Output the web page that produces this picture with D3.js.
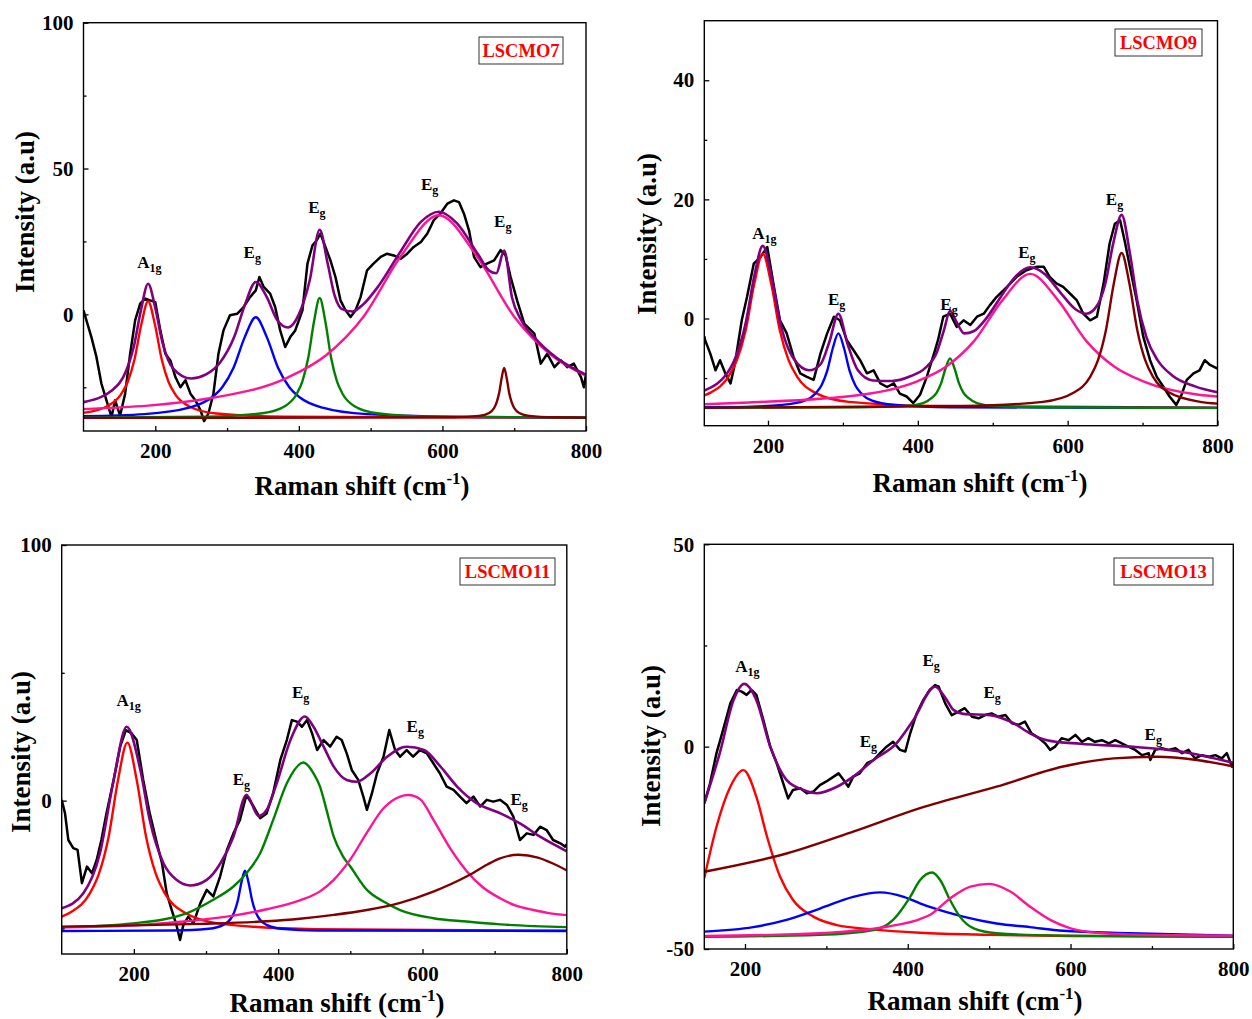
<!DOCTYPE html>
<html>
<head>
	<meta charset="utf-8">
	<title>Raman spectra LSCMO</title>
	<script src="https://cdn.jsdelivr.net/npm/d3@7"></script>
	<style>
		body { margin: 0; background: #fff; }
		svg text { font-family: "Liberation Serif", "Times New Roman", serif; font-weight: bold; }
	</style>
</head>
<body>
<div id="chart"></div>
<script>

// ---- data ----

const xMajor = [200, 400, 600, 800];
const xMinor = [300, 500, 700];

// LSCMO7
const measured7 = [[100,1.4],[104,-2],[111,-7.8],[118,-14.6],[125,-23.8],[132,-29.5],[139,-35.2],[144,-29.5],[151,-34.7],[158,-27.2],[165,-13.5],[172,-2],[179,3.7],[186,5.4],[193,4.8],[200,4.2],[207,-5.5],[214,-13.5],[221,-15.8],[228,-21.5],[235,-25],[242,-22.6],[249,-27.2],[256,-29.5],[263,-32.9],[268,-36.6],[274,-34],[281,-27.2],[288,-13.5],[295,-5.5],[304,-0.3],[314,0.2],[323,2.5],[332,5.9],[340,8.2],[345,12.8],[351,9.4],[360,7.1],[367,2.5],[374,-5.5],[381,-11.2],[388,-7.8],[395,-5.5],[405,1.4],[412,17.4],[419,23.7],[425,25.4],[430,27.7],[437,23.1],[444,18.5],[451,12.8],[458,4.8],[465,1.4],[472,-0.9],[479,1.4],[486,5.9],[495,15.1],[504,17.4],[514,19.7],[523,20.8],[532,20.2],[542,19.1],[551,20.8],[560,23.1],[570,24.8],[579,27.7],[588,32.3],[597,34.5],[607,38],[616,39.1],[623,38.5],[630,34.5],[637,28.8],[644,19.7],[653,16.2],[662,17.4],[672,18.5],[681,22],[688,20.2],[695,12.8],[704,4.8],[714,-3.2],[728,-6.6],[737,-16.9],[746,-13.5],[756,-18.1],[765,-15.8],[774,-18.1],[783,-16.9],[793,-21.5],[797,-25],[800,-20.4]];
const fit7 = [[100,-30.1],[140,-26],[160,-19],[170,-11.2],[180,1.4],[190,10.5],[200,2.2],[210,-9.6],[225,-18.6],[250,-22],[270,-20.7],[290,-16.6],[310,-7.7],[325,3.4],[340,11.1],[355,6.1],[370,-2],[385,-4.5],[400,0],[415,11.5],[429,29],[440,17.6],[450,6.3],[460,1.8],[475,1],[490,3.5],[510,9.4],[540,20.9],[570,31.7],[595,35.2],[620,31.3],[650,20.4],[665,15],[675,14.1],[686,21.9],[697,5.7],[710,-2.1],[730,-8.4],[760,-15.1],[800,-20.7]];
const red7 = [[100,-33.8],[133,-31.5],[152,-27.5],[161.5,-23.2],[171,-15.5],[180.5,-3.5],[190,4.5],[199.5,-3.5],[209,-15.5],[218.5,-23.2],[228,-27.5],[247,-31.5],[285,-34],[380,-35.1],[800,-35.5]];
const blue7 = [[100,-34.9],[185,-34.2],[247,-32],[278,-28.6],[293.5,-24.9],[309,-18.3],[324.5,-7.9],[340,-1],[355.5,-7.9],[371,-18.3],[386.5,-24.9],[402,-28.6],[433,-32],[495,-34.2],[650,-35.2],[800,-35.4]];
const green7 = [[100,-35.4],[269,-35.1],[349,-33.9],[381,-31.4],[397,-27.3],[405,-22.9],[413,-15],[421,-2.6],[429,5.6],[437,-2.6],[445,-15],[453,-22.9],[461,-27.3],[477,-31.4],[509,-33.9],[589,-35.1],[800,-35.4]];
const pink7 = [[100,-32.5],[280,-28.6],[385,-21.6],[437.5,-14.1],[490,-0.8],[542.5,20.1],[595,34],[647.5,20.1],[700,-0.8],[752.5,-14.1],[800,-21]];
const darkred7 = [[100,-35.5],[616,-35.3],[651,-34.8],[665,-33.8],[672,-32.1],[675.5,-30.2],[679,-27],[682.5,-21.8],[686,-18.4],[689.5,-21.8],[693,-27],[696.5,-30.2],[700,-32.1],[707,-33.8],[721,-34.8],[756,-35.3],[800,-35.4]];
const labels7 = [[175,15.8,"A","1g"],[323,19.2,"E","g"],[413,34.7,"E","g"],[570,42.6,"E","g"],[672,29.9,"E","g"]];

// LSCMO9
const measured9 = [[115,-3],[116,-3.6],[123,-5.9],[130,-8.7],[136,-7],[143,-9.2],[150,-10.9],[156,-7.5],[165,-0.3],[172,3.6],[181,9.2],[190,10.3],[199,12],[208,5.3],[216,-0.3],[225,-2.5],[234,-6.4],[243,-9.2],[252,-9.8],[261,-10.3],[270,-5.9],[279,-2.5],[288,0.3],[296,-0.3],[305,-3.6],[314,-5.3],[323,-7],[332,-9.2],[341,-8.7],[350,-10.9],[359,-11.5],[368,-10.9],[376,-12.6],[385,-13.1],[394,-14.2],[403,-12.8],[412,-9.8],[423,-5.3],[427,-3.6],[434,0.3],[443,0.8],[452,-1.4],[461,-0.3],[470,-1.1],[479,0.3],[488,0.8],[496,2.2],[505,3.6],[519,5.3],[532,7],[545,8.1],[559,8.7],[568,8.7],[576,7],[585,5.9],[594,5.3],[603,4.2],[612,3.1],[621,0.8],[630,-0.3],[639,0.3],[648,5.9],[656,12.6],[663,15.9],[670,16.5],[676,13.1],[683,8.7],[692,3.1],[701,-3.1],[710,-7],[719,-9.8],[728,-11.5],[736,-13.1],[745,-14.5],[752,-12.8],[759,-10.3],[768,-9.2],[776,-8.7],[783,-7],[790,-7.8],[800,-8.4]];
const fit9 = [[115,-12.1],[150,-8.3],[170,-0.9],[182,7.3],[193,12.2],[205,6.8],[216,-0.5],[235,-6.9],[255,-8.7],[270,-7.7],[282,-3.9],[294,0.8],[306,-4.2],[320,-8.7],[340,-10.4],[365,-10.5],[390,-9.7],[410,-8.3],[425,-5.8],[435,-1.9],[443,1.3],[451,-0.4],[462,-2.5],[475,-2.1],[490,-0.2],[510,3.5],[530,7],[550,8.6],[570,7.4],[590,4.4],[610,1.6],[625,0.8],[640,2.3],[650,5.7],[661,12.7],[672,17.4],[683,11],[693,3],[705,-3.1],[720,-7],[740,-9.6],[770,-11.4],[800,-12.4]];
const red9 = [[115,-12.9],[124,-12.4],[147,-9.8],[158.5,-7],[170,-2.1],[181.5,5.7],[193,10.9],[204.5,5.7],[216,-2.1],[227.5,-7],[239,-9.8],[262,-12.4],[308,-14],[423,-14.7],[800,-15]];
const blue9 = [[115,-14.9],[144,-14.9],[219,-14.5],[249,-13.8],[264,-12.5],[271.5,-11.2],[279,-8.8],[286.5,-5],[294,-2.5],[301.5,-5],[309,-8.8],[316.5,-11.2],[324,-12.5],[339,-13.8],[369,-14.5],[444,-14.9],[800,-15]];
const green9 = [[115,-15],[323,-14.9],[383,-14.7],[407,-14.2],[419,-13.3],[425,-12.5],[431,-10.9],[437,-8.4],[443,-6.7],[449,-8.4],[455,-10.9],[461,-12.5],[467,-13.3],[479,-14.2],[503,-14.7],[563,-14.9],[800,-15]];
const pink9 = [[115,-14.4],[175,-14.1],[325,-12.8],[400,-10.5],[437.5,-8.1],[475,-3.8],[512.5,3],[550,7.5],[587.5,3],[625,-3.8],[662.5,-8.1],[700,-10.5],[775,-12.8],[800,-13.1]];
const darkred9 = [[115,-15],[462,-14.7],[567,-14],[609,-12.4],[630,-9.8],[640.5,-7],[651,-2],[661.5,5.8],[672,11],[682.5,5.8],[693,-2],[703.5,-7],[714,-9.8],[735,-12.4],[777,-14],[800,-14.3]];
const labels9 = [[179,13.4,"A","1g"],[280,2.2,"E","g"],[430,1.4,"E","g"],[534,10.2,"E","g"],[651,19,"E","g"]];

// LSCMO11
const measured11 = [[100,0.3],[104.6,-5],[109.2,-15.4],[116,-18.6],[122,-19.3],[128,-32.3],[135,-25.8],[142,-28.4],[148.5,-23.2],[155,-15.4],[162,-5],[172,8.1],[181,21.1],[189,27.6],[197,26.3],[204,23.7],[213,8.1],[222,-5],[232,-16.7],[239,-24.5],[245.5,-36.2],[252.5,-42.8],[259,-48.6],[264,-54.5],[268.6,-48.6],[275.5,-45.4],[282.5,-48],[292,-40.2],[301,-34.9],[310,-37.5],[319.5,-29.7],[329,-19.3],[338,-12.8],[347,-7.6],[356,2.2],[366,-2.3],[375,-6.9],[384,-5],[393,2.9],[403,15.9],[412,23.7],[419,31.5],[426,30.9],[433,28.9],[440,31.5],[447,26.3],[454,19.8],[463,23.7],[472,21.1],[481,25],[488,23.7],[495,18.5],[502,12],[511,8.1],[518,1.6],[523,-3.6],[530,2.9],[537,10.7],[546,17.2],[554,27.6],[562,19.8],[569,17.2],[578,19.8],[587,17.2],[596.5,19.8],[606,18.5],[615,14.6],[624,10.7],[633.5,5.5],[643,4.2],[652,1.6],[661,-1],[670.5,1.6],[680,-2.3],[689,0.3],[698,-0.4],[707.5,0.3],[717,-1.7],[726,-6.3],[735,-15.4],[744.5,-12.8],[754,-13.4],[763,-10.2],[772,-11.5],[781,-15.4],[791,-16.7],[797.6,-18],[800,-17]];
const fit11 = [[100,-42.1],[130,-36.2],[153,-20.6],[172,8.1],[190,28.9],[209,12],[222,-7.6],[241,-24.5],[259,-31],[278,-33.2],[301,-31],[320,-24.5],[338,-14.1],[356,2.2],[373,-6],[384,-3.7],[398,6.8],[417,23.7],[437,32.9],[449,28.9],[463,21.1],[477,13.3],[495,8.1],[509,7.4],[528,10.7],[551,17.2],[578,21.1],[602,19.8],[625,13.3],[648,5.5],[675,-1],[708,-5],[735,-8.9],[763,-14.1],[800,-19.8]];
const red11 = [[100,-45.4],[113,-43.6],[139,-36.3],[152,-28.3],[165,-14.2],[178,8],[191,22.7],[204,8],[217,-14.2],[230,-28.3],[243,-36.3],[269,-43.6],[321,-48.2],[451,-50.3],[800,-50.9]];
const blue11 = [[100,-51],[254,-50.8],[304,-50.1],[324,-48.6],[334,-46.3],[339,-43.7],[344,-39.2],[349,-32.1],[354,-27.4],[359,-32.1],[364,-39.2],[369,-43.7],[374,-46.3],[384,-48.6],[404,-50.1],[454,-50.8],[800,-51]];
const green11 = [[100,-49.5],[199,-48],[273,-44.1],[310,-38.8],[338,-33.6],[356,-28.4],[375,-20.6],[393,-7.6],[412,6.8],[435,14.9],[449,10.7],[458,5.5],[467,-3.6],[477,-14.1],[490,-21.9],[500,-25.8],[523,-34.9],[546,-39.5],[569,-42.8],[615,-46],[661,-47.3],[708,-48.4],[800,-49.5]];
const pink11 = [[100,-49.6],[200,-48.8],[273,-47.2],[338,-45],[384,-42.5],[430,-39],[458,-35.5],[477,-31],[500,-23],[523,-12.5],[546,-3],[569,1.6],[580.5,2.2],[597,0.5],[615,-7.4],[638,-18.5],[661,-27.5],[684,-34],[707.5,-38.2],[730.6,-41.2],[753.7,-42.8],[775,-44],[800,-44.8]];
const darkred11 = [[100,-49.3],[200,-48.8],[292,-48.2],[384,-47.2],[430,-46.2],[477,-44.7],[523,-42.8],[569,-40],[615,-35.6],[661,-29.7],[690,-25],[707.5,-22.6],[733,-21.2],[760,-22.3],[780,-24.5],[800,-27.3]];
const labels11 = [[176,37,"A","1g"],[337,6.1,"E","g"],[419,40,"E","g"],[578,26.7,"E","g"],[722,-1.7,"E","g"]];

// LSCMO13
const measured13 = [[150,-14],[157,-9.1],[165,-1.6],[173,4.1],[182,10.7],[190,14],[196,13.6],[202,12.8],[208,14],[214,12.8],[222.5,6.6],[231,0],[239,-4.1],[247,-9.1],[253,-12.8],[259,-10.7],[268,-10.3],[276,-11.5],[284,-11.1],[292,-9.5],[300,-8.6],[309,-7.4],[315,-6.6],[321,-8.2],[327,-9.9],[333,-7.4],[341,-6.6],[350,-4.1],[358,-3.3],[366,-1.6],[374,0],[382,1.2],[390.5,-0.8],[397,-1.2],[403,3.3],[411,8.2],[419,11.5],[427,14],[433.5,15.2],[438,14.8],[446,10.7],[454,7.8],[462,8.6],[470,9.5],[479,7.4],[487,7],[495,7.8],[503,8.2],[511,7.4],[520,7.8],[528,5.8],[536,5.4],[544,6.2],[552,3.3],[561,2.1],[569,0.8],[575,-0.8],[581,0],[589,2.1],[597.5,1.6],[606,2.9],[614,1.2],[622,2.1],[630,1.2],[638.5,1.6],[647,0.8],[655,1.6],[663,0.8],[671,0],[679.5,-0.8],[688,-2.1],[696,-1.6],[698,-3.3],[704,-0.8],[712,-0.4],[720.5,-0.8],[729,-0.4],[737,-1.6],[745,-0.8],[753,-2.9],[761.5,-2.1],[770,-2.5],[778,-2.1],[786,-2.9],[792,-1.6],[798.4,-4.9],[800,-4.1]];
const fit13 = [[150,-14],[169,-1.6],[186,11.5],[199,15.5],[214,11.5],[231,0],[251,-8.2],[272,-10.7],[288,-11.5],[313,-9.9],[333,-7.4],[358,-3.3],[386,0.8],[407,6.6],[433.5,14.8],[448,11.5],[456,9.1],[468,8.1],[501,7.8],[530,5.8],[550,3.3],[571,1.6],[612,0.7],[673,0],[735,-1.2],[800,-4]];
const red13 = [[150,-32.5],[165,-19.8],[182,-9.9],[198,-5.8],[214,-12.4],[227,-22.2],[243,-32.1],[259,-37.9],[284,-42],[313,-44.1],[354,-45.1],[415,-46],[500,-46.5],[600,-46.8],[800,-47]];
const blue13 = [[150,-45.7],[210,-44.6],[251,-42.8],[292,-40],[333,-37.1],[366,-36],[395,-37.1],[415,-38.7],[430,-39.8],[468,-42],[509,-43.7],[550,-44.6],[591,-45.5],[673,-46.1],[800,-46.7]];
const green13 = [[150,-47],[292,-46.5],[358,-45.3],[382,-42.8],[403,-37.1],[415,-33],[430,-31.1],[440,-33],[452,-37.9],[464,-42],[481,-44.9],[509,-46.1],[591,-46.7],[800,-47]];
const pink13 = [[150,-46.8],[292,-46.1],[374,-44.5],[415,-42.6],[427,-41.6],[452,-37.5],[477,-34.6],[500,-33.9],[526,-35.8],[550,-39.5],[575,-42.8],[600,-44.9],[632,-46],[673,-46.4],[800,-46.7]];
const darkred13 = [[150,-30.9],[251,-26.4],[333,-21],[415,-15.2],[509,-9.9],[591,-4.9],[653,-2.9],[706,-2.5],[755,-3.3],[800,-4.9]];
const labels13 = [[188,18.5,"A","1g"],[341,-0.2,"E","g"],[418,19.9,"E","g"],[493,11.9,"E","g"],[691,1.6,"E","g"]];

const peakColors = ["#ff0000", "#0000ff", "#008000", "#ff1493", "#800000"];

// ---- layout ----

const panels = [
	{ name: "LSCMO7", left: 83.5, right: 586, top: 22.7, bottom: 431,
	  xDomain: [100, 800], yDomain: [-40, 100], yMajor: [0, 50, 100], yMinor: [-25, 25, 75],
	  measured: measured7, fit: fit7, peaks: [red7, blue7, green7, pink7, darkred7], labels: labels7,
	  box: [479, 37, 84, 27], xTitle: [362, 495], yTitle: [34, 212] },
	{ name: "LSCMO9", left: 704.3, right: 1217.5, top: 20.7, bottom: 425.7,
	  xDomain: [115, 800], yDomain: [-18, 50], yMajor: [0, 20, 40], yMinor: [-10, 10, 30],
	  measured: measured9, fit: fit9, peaks: [red9, blue9, green9, pink9, darkred9], labels: labels9,
	  box: [1115, 29, 87, 27], xTitle: [980, 492], yTitle: [656, 234] },
	{ name: "LSCMO11", left: 61.7, right: 566.8, top: 545, bottom: 954,
	  xDomain: [100, 800], yDomain: [-60, 100], yMajor: [0, 100], yMinor: [-50, 50],
	  measured: measured11, fit: fit11, peaks: [red11, blue11, green11, pink11, darkred11], labels: labels11,
	  box: [460, 558, 95, 27], xTitle: [337, 1012], yTitle: [30, 752] },
	{ name: "LSCMO13", left: 704.3, right: 1233.3, top: 544.3, bottom: 949,
	  xDomain: [150, 800], yDomain: [-50, 50], yMajor: [-50, 0, 50], yMinor: [-25, 25],
	  measured: measured13, fit: fit13, peaks: [red13, blue13, green13, pink13, darkred13], labels: labels13,
	  box: [1114, 558, 99, 27], xTitle: [975, 1010], yTitle: [660, 746] }
];

const svg = d3.select("#chart").append("svg")
	.attr("width", 1252)
	.attr("height", 1019)
	.attr("viewBox", [0, 0, 1252, 1019]);

svg.append("rect").attr("width", 1252).attr("height", 1019).attr("fill", "#fff");

function drawPanel(p, idx) {
	const x = d3.scaleLinear(p.xDomain, [p.left, p.right]);
	const y = d3.scaleLinear(p.yDomain, [p.bottom, p.top]);
	const g = svg.append("g");

	const clipId = "clip" + idx;
	g.append("clipPath").attr("id", clipId)
		.append("rect")
		.attr("x", p.left).attr("y", p.top)
		.attr("width", p.right - p.left).attr("height", p.bottom - p.top);

	const plot = g.append("g").attr("clip-path", `url(#${clipId})`);
	const rough = d3.line().x(d => x(d[0])).y(d => y(d[1]));
	const smooth = d3.line().x(d => x(d[0])).y(d => y(d[1])).curve(d3.curveMonotoneX);

	plot.append("path").datum(p.measured)
		.attr("d", rough).attr("fill", "none")
		.attr("stroke", "#000").attr("stroke-width", 2.5).attr("stroke-linejoin", "round");

	p.peaks.forEach((pk, i) => {
		plot.append("path").datum(pk)
			.attr("d", smooth).attr("fill", "none")
			.attr("stroke", peakColors[i]).attr("stroke-width", 2.4);
	});

	plot.append("path").datum(p.fit)
		.attr("d", smooth).attr("fill", "none")
		.attr("stroke", "#800080").attr("stroke-width", 2.6);

	// axes, ticks pointing inward
	const fmt = d => String(d);
	const styleAxis = sel => sel
		.attr("font-family", "'Liberation Serif', 'Times New Roman', serif")
		.attr("font-size", 21)
		.call(s => s.select(".domain").remove())
		.call(s => s.selectAll(".tick line").attr("stroke-width", 1.3));

	g.append("g").attr("transform", `translate(0,${p.bottom})`)
		.call(d3.axisBottom(x).tickValues(xMajor).tickSize(-5).tickPadding(12).tickFormat(fmt))
		.call(styleAxis);
	g.append("g").attr("transform", `translate(0,${p.bottom})`)
		.call(d3.axisBottom(x).tickValues(xMinor).tickSize(-3).tickFormat(""))
		.call(styleAxis);
	g.append("g").attr("transform", `translate(${p.left},0)`)
		.call(d3.axisLeft(y).tickValues(p.yMajor).tickSize(-5).tickPadding(10).tickFormat(fmt))
		.call(styleAxis);
	g.append("g").attr("transform", `translate(${p.left},0)`)
		.call(d3.axisLeft(y).tickValues(p.yMinor).tickSize(-3).tickFormat(""))
		.call(styleAxis);

	g.append("rect")
		.attr("x", p.left).attr("y", p.top)
		.attr("width", p.right - p.left).attr("height", p.bottom - p.top)
		.attr("fill", "none").attr("stroke", "#000").attr("stroke-width", 1.4);

	// peak labels
	p.labels.forEach(([lx, ly, main, sub]) => {
		const t = g.append("text")
			.attr("x", x(lx)).attr("y", y(ly))
			.attr("font-size", 17).attr("fill", "#000");
		t.append("tspan").text(main);
		t.append("tspan").attr("dy", 4).attr("font-size", 12).text(sub);
	});

	// sample name box
	const [bx, by, bw, bh] = p.box;
	g.append("rect").attr("x", bx).attr("y", by).attr("width", bw).attr("height", bh)
		.attr("fill", "#fff").attr("stroke", "#333").attr("stroke-width", 1);
	g.append("text")
		.attr("x", bx + bw / 2).attr("y", by + bh / 2 + 6.5)
		.attr("text-anchor", "middle")
		.attr("font-size", 18.5).attr("fill", "#ff0000")
		.text(p.name);

	// axis titles
	const xt = g.append("text")
		.attr("x", p.xTitle[0]).attr("y", p.xTitle[1])
		.attr("text-anchor", "middle").attr("font-size", 27).attr("fill", "#000");
	xt.append("tspan").text("Raman shift (cm");
	xt.append("tspan").attr("dy", -11).attr("font-size", 17).text("-1");
	xt.append("tspan").attr("dy", 11).text(")");

	g.append("text")
		.attr("transform", `translate(${p.yTitle[0]},${p.yTitle[1]}) rotate(-90)`)
		.attr("text-anchor", "middle").attr("font-size", 27).attr("fill", "#000")
		.text("Intensity (a.u)");
}

panels.forEach(drawPanel);

</script>
</body>
</html>
